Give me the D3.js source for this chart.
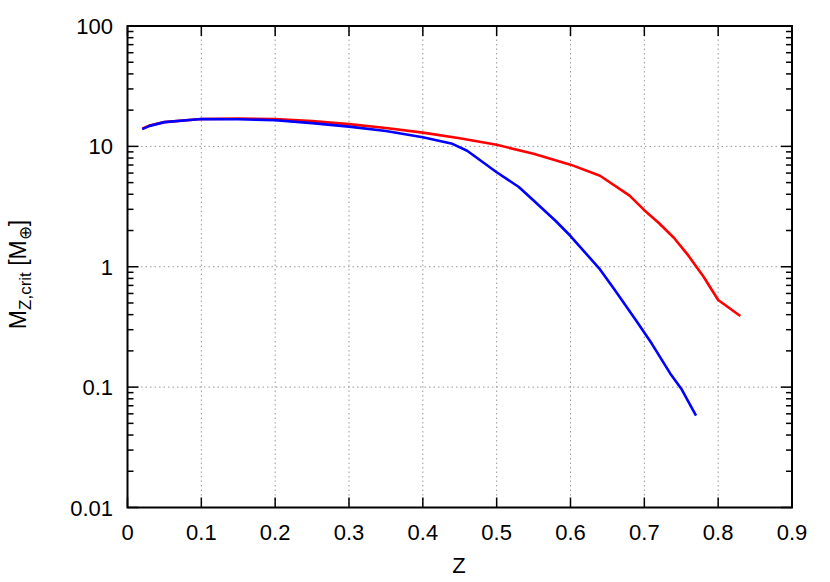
<!DOCTYPE html>
<html><head><meta charset="utf-8">
<script src="https://cdn.jsdelivr.net/npm/d3@7"></script>
<style>body{margin:0;background:#fff}svg{display:block}text{font-family:"Liberation Sans",Arial,sans-serif;fill:#000}</style>
</head><body>
<svg id="c" width="830" height="582"></svg>
<script>
const redZ = [0.02,0.03,0.05,0.10,0.15,0.20,0.25,0.30,0.35,0.40,0.45,0.50,0.55,0.60,0.64,0.68,0.70,0.72,0.74,0.76,0.78,0.80,0.83];
const redM = [14.0,14.9,15.9,16.9,17.0,16.9,16.2,15.3,14.2,13.0,11.7,10.3,8.7,7.05,5.7,3.9,2.95,2.3,1.74,1.23,0.83,0.53,0.39];
const blueZ = [0.02,0.03,0.05,0.10,0.15,0.20,0.25,0.30,0.35,0.40,0.44,0.46,0.50,0.53,0.55,0.58,0.60,0.64,0.66,0.69,0.71,0.735,0.75,0.77];
const blueM = [13.9,14.8,15.9,16.9,16.8,16.5,15.6,14.6,13.4,11.9,10.5,9.2,6.1,4.6,3.55,2.4,1.8,0.95,0.64,0.35,0.23,0.13,0.097,0.058];
const xTicks = [0,0.1,0.2,0.3,0.4,0.5,0.6,0.7,0.8,0.9];
const xTickLabels = ["0","0.1","0.2","0.3","0.4","0.5","0.6","0.7","0.8","0.9"];
const yTicks = [0.01,0.1,1,10,100];
const yTickLabels = ["0.01","0.1","1","10","100"];

const L=127.5, R=792, T=26, B=507.5;
const svg=d3.select("#c");
const x=d3.scaleLinear().domain([0,0.9]).range([L,R]);
const y=d3.scaleLog().domain([0.01,100]).range([B,T]);

// grid
const g=svg.append("g");
xTicks.slice(1,-1).forEach(v=>g.append("line").attr("x1",x(v)).attr("x2",x(v)).attr("y1",T).attr("y2",B)
  .attr("stroke","#999").attr("stroke-width",1).attr("stroke-dasharray","1.5,3"));
yTicks.slice(1,-1).forEach(v=>g.append("line").attr("x1",L).attr("x2",R).attr("y1",y(v)).attr("y2",y(v))
  .attr("stroke","#999").attr("stroke-width",1).attr("stroke-dasharray","1.5,3"));

// minor ticks
const minors=[];
for(let d=0.01; d<100; d*=10){ for(let k=2;k<=9;k++) minors.push(d*k); }
const tk=svg.append("g").attr("stroke","#000").attr("stroke-width",1.5);
minors.forEach(v=>{
  const yy=y(v);
  tk.append("line").attr("x1",L).attr("x2",L+6).attr("y1",yy).attr("y2",yy);
  tk.append("line").attr("x1",R).attr("x2",R-6).attr("y1",yy).attr("y2",yy);
});
yTicks.forEach(v=>{
  const yy=y(v);
  tk.append("line").attr("x1",L).attr("x2",L+11).attr("y1",yy).attr("y2",yy);
  tk.append("line").attr("x1",R).attr("x2",R-11).attr("y1",yy).attr("y2",yy);
});
xTicks.forEach(v=>{
  const xx=x(v);
  tk.append("line").attr("x1",xx).attr("x2",xx).attr("y1",B).attr("y2",B-10);
  tk.append("line").attr("x1",xx).attr("x2",xx).attr("y1",T).attr("y2",T+10);
});

// curves
const line=d3.line().x(d=>x(d[0])).y(d=>y(d[1]));
svg.append("path").datum(redZ.map((z,i)=>[z,redM[i]])).attr("d",line)
  .attr("fill","none").attr("stroke","#ff0000").attr("stroke-width",2.6).attr("stroke-linejoin","round");
svg.append("path").datum(blueZ.map((z,i)=>[z,blueM[i]])).attr("d",line)
  .attr("fill","none").attr("stroke","#0000ff").attr("stroke-width",2.6).attr("stroke-linejoin","round");

// border
svg.append("rect").attr("x",L).attr("y",T).attr("width",R-L).attr("height",B-T)
  .attr("fill","none").attr("stroke","#000").attr("stroke-width",2);

// labels
xTicks.forEach((v,i)=>svg.append("text").attr("x",x(v)).attr("y",539.5).attr("text-anchor","middle")
  .attr("font-size",22).text(xTickLabels[i]));
yTicks.forEach((v,i)=>svg.append("text").attr("x",113).attr("y",y(v)+8).attr("text-anchor","end")
  .attr("font-size",22).text(yTickLabels[i]));
svg.append("text").attr("x",459).attr("y",573).attr("text-anchor","middle").attr("font-size",22).text("Z");
const yl=svg.append("text").attr("transform","translate(26,274.5) rotate(-90)").attr("text-anchor","middle").attr("font-size",23);
yl.append("tspan").text("M");
yl.append("tspan").attr("font-size",17).attr("dy",5).text("Z,crit");
yl.append("tspan").attr("dy",-5).text(" [M");
yl.append("tspan").attr("font-size",17).attr("dy",5).text("⊕");
yl.append("tspan").attr("dy",-5).text("]");
</script>
</body></html>
